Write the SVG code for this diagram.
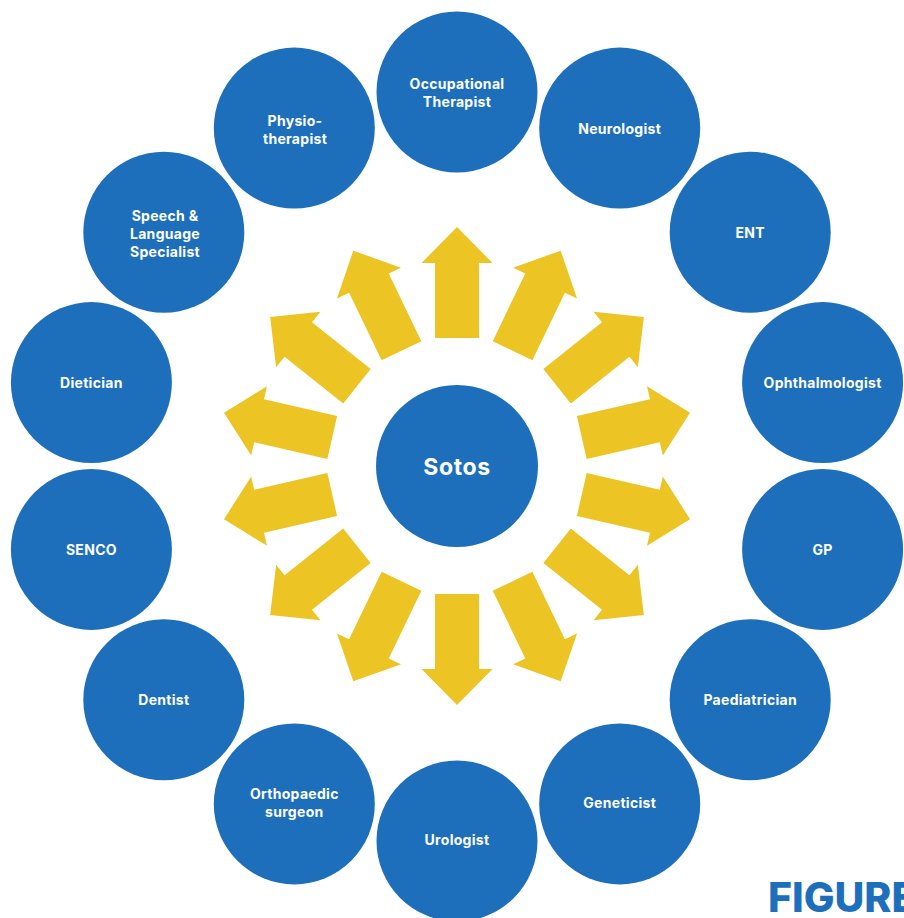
<svg xmlns="http://www.w3.org/2000/svg" width="904" height="918" viewBox="0 0 904 918">
  <style>
    .node { fill: #1d6fbc; }
    .arrow { fill: #ecc424; }
    .lbl { font-family: Inter, "Liberation Sans", sans-serif; font-weight: 700; font-size: 14px; letter-spacing: 0.3px; fill: #ffffff; text-anchor: middle; }
    .hub { font-family: Inter, "Liberation Sans", sans-serif; font-weight: 700; font-size: 23px; letter-spacing: 0.6px; fill: #ffffff; text-anchor: middle; }
    .fig { font-family: Inter, "Liberation Sans", sans-serif; font-weight: 800; font-size: 41px; fill: #1d6fbc; }
  </style>
  <defs>
    <!-- block arrow pointing along +x, measured from the hub centre -->
    <polygon id="ray" points="128,-22 203,-22 203,-35.5 239,0 203,35.5 203,22 128,22"/>
  </defs>
  <rect width="904" height="918" fill="#ffffff"/>

  <g id="connectors" class="arrow" transform="translate(457 466)">
    <use href="#ray" transform="rotate(-90)"/>
    <use href="#ray" transform="rotate(-64.29)"/>
    <use href="#ray" transform="rotate(-38.57)"/>
    <use href="#ray" transform="rotate(-12.86)"/>
    <use href="#ray" transform="rotate(12.86)"/>
    <use href="#ray" transform="rotate(38.57)"/>
    <use href="#ray" transform="rotate(64.29)"/>
    <use href="#ray" transform="rotate(90)"/>
    <use href="#ray" transform="rotate(115.71)"/>
    <use href="#ray" transform="rotate(141.43)"/>
    <use href="#ray" transform="rotate(167.14)"/>
    <use href="#ray" transform="rotate(192.86)"/>
    <use href="#ray" transform="rotate(218.57)"/>
    <use href="#ray" transform="rotate(244.29)"/>
  </g>

  <g id="sotos">
    <circle class="node" cx="457" cy="466" r="81"/>
    <text class="hub" x="457" y="475">Sotos</text>
  </g>

  <!-- outer ring: radius 375 around (457,466), 14 equal steps -->
  <g id="occupational-therapist">
    <circle class="node" cx="457" cy="92" r="80.5"/>
    <text class="lbl" x="457" y="89">Occupational</text>
    <text class="lbl" x="457" y="107">Therapist</text>
  </g>
  <g id="neurologist">
    <circle class="node" cx="619.7" cy="128.1" r="80.5"/>
    <text class="lbl" x="619.7" y="134">Neurologist</text>
  </g>
  <g id="ent">
    <circle class="node" cx="750.2" cy="232.2" r="80.5"/>
    <text class="lbl" x="750.2" y="238">ENT</text>
  </g>
  <g id="ophthalmologist">
    <circle class="node" cx="822.6" cy="382.6" r="80.5"/>
    <text class="lbl" x="822.6" y="388">Ophthalmologist</text>
  </g>
  <g id="gp">
    <circle class="node" cx="822.6" cy="549.4" r="80.5"/>
    <text class="lbl" x="822.6" y="555">GP</text>
  </g>
  <g id="paediatrician">
    <circle class="node" cx="750.2" cy="699.8" r="80.5"/>
    <text class="lbl" x="750.2" y="704.5">Paediatrician</text>
  </g>
  <g id="geneticist">
    <circle class="node" cx="619.7" cy="803.9" r="80.5"/>
    <text class="lbl" x="619.7" y="808">Geneticist</text>
  </g>
  <g id="urologist">
    <circle class="node" cx="457" cy="841" r="80.5"/>
    <text class="lbl" x="457" y="845">Urologist</text>
  </g>
  <g id="orthopaedic-surgeon">
    <circle class="node" cx="294.3" cy="803.9" r="80.5"/>
    <text class="lbl" x="294.3" y="799">Orthopaedic</text>
    <text class="lbl" x="294.3" y="817">surgeon</text>
  </g>
  <g id="dentist">
    <circle class="node" cx="163.8" cy="699.8" r="80.5"/>
    <text class="lbl" x="163.8" y="704.5">Dentist</text>
  </g>
  <g id="senco">
    <circle class="node" cx="91.4" cy="549.4" r="80.5"/>
    <text class="lbl" x="91.4" y="555">SENCO</text>
  </g>
  <g id="dietician">
    <circle class="node" cx="91.4" cy="382.6" r="80.5"/>
    <text class="lbl" x="91.4" y="388">Dietician</text>
  </g>
  <g id="speech-language-specialist">
    <circle class="node" cx="163.8" cy="232.2" r="80.5"/>
    <text class="lbl" x="165" y="221">Speech &amp;</text>
    <text class="lbl" x="165" y="239">Language</text>
    <text class="lbl" x="165" y="257">Specialist</text>
  </g>
  <g id="physiotherapist">
    <circle class="node" cx="294.3" cy="128.1" r="80.5"/>
    <text class="lbl" x="295" y="125.5">Physio-</text>
    <text class="lbl" x="295" y="143.5">therapist</text>
  </g>

  <text class="fig" x="768" y="912">FIGURE</text>
</svg>
